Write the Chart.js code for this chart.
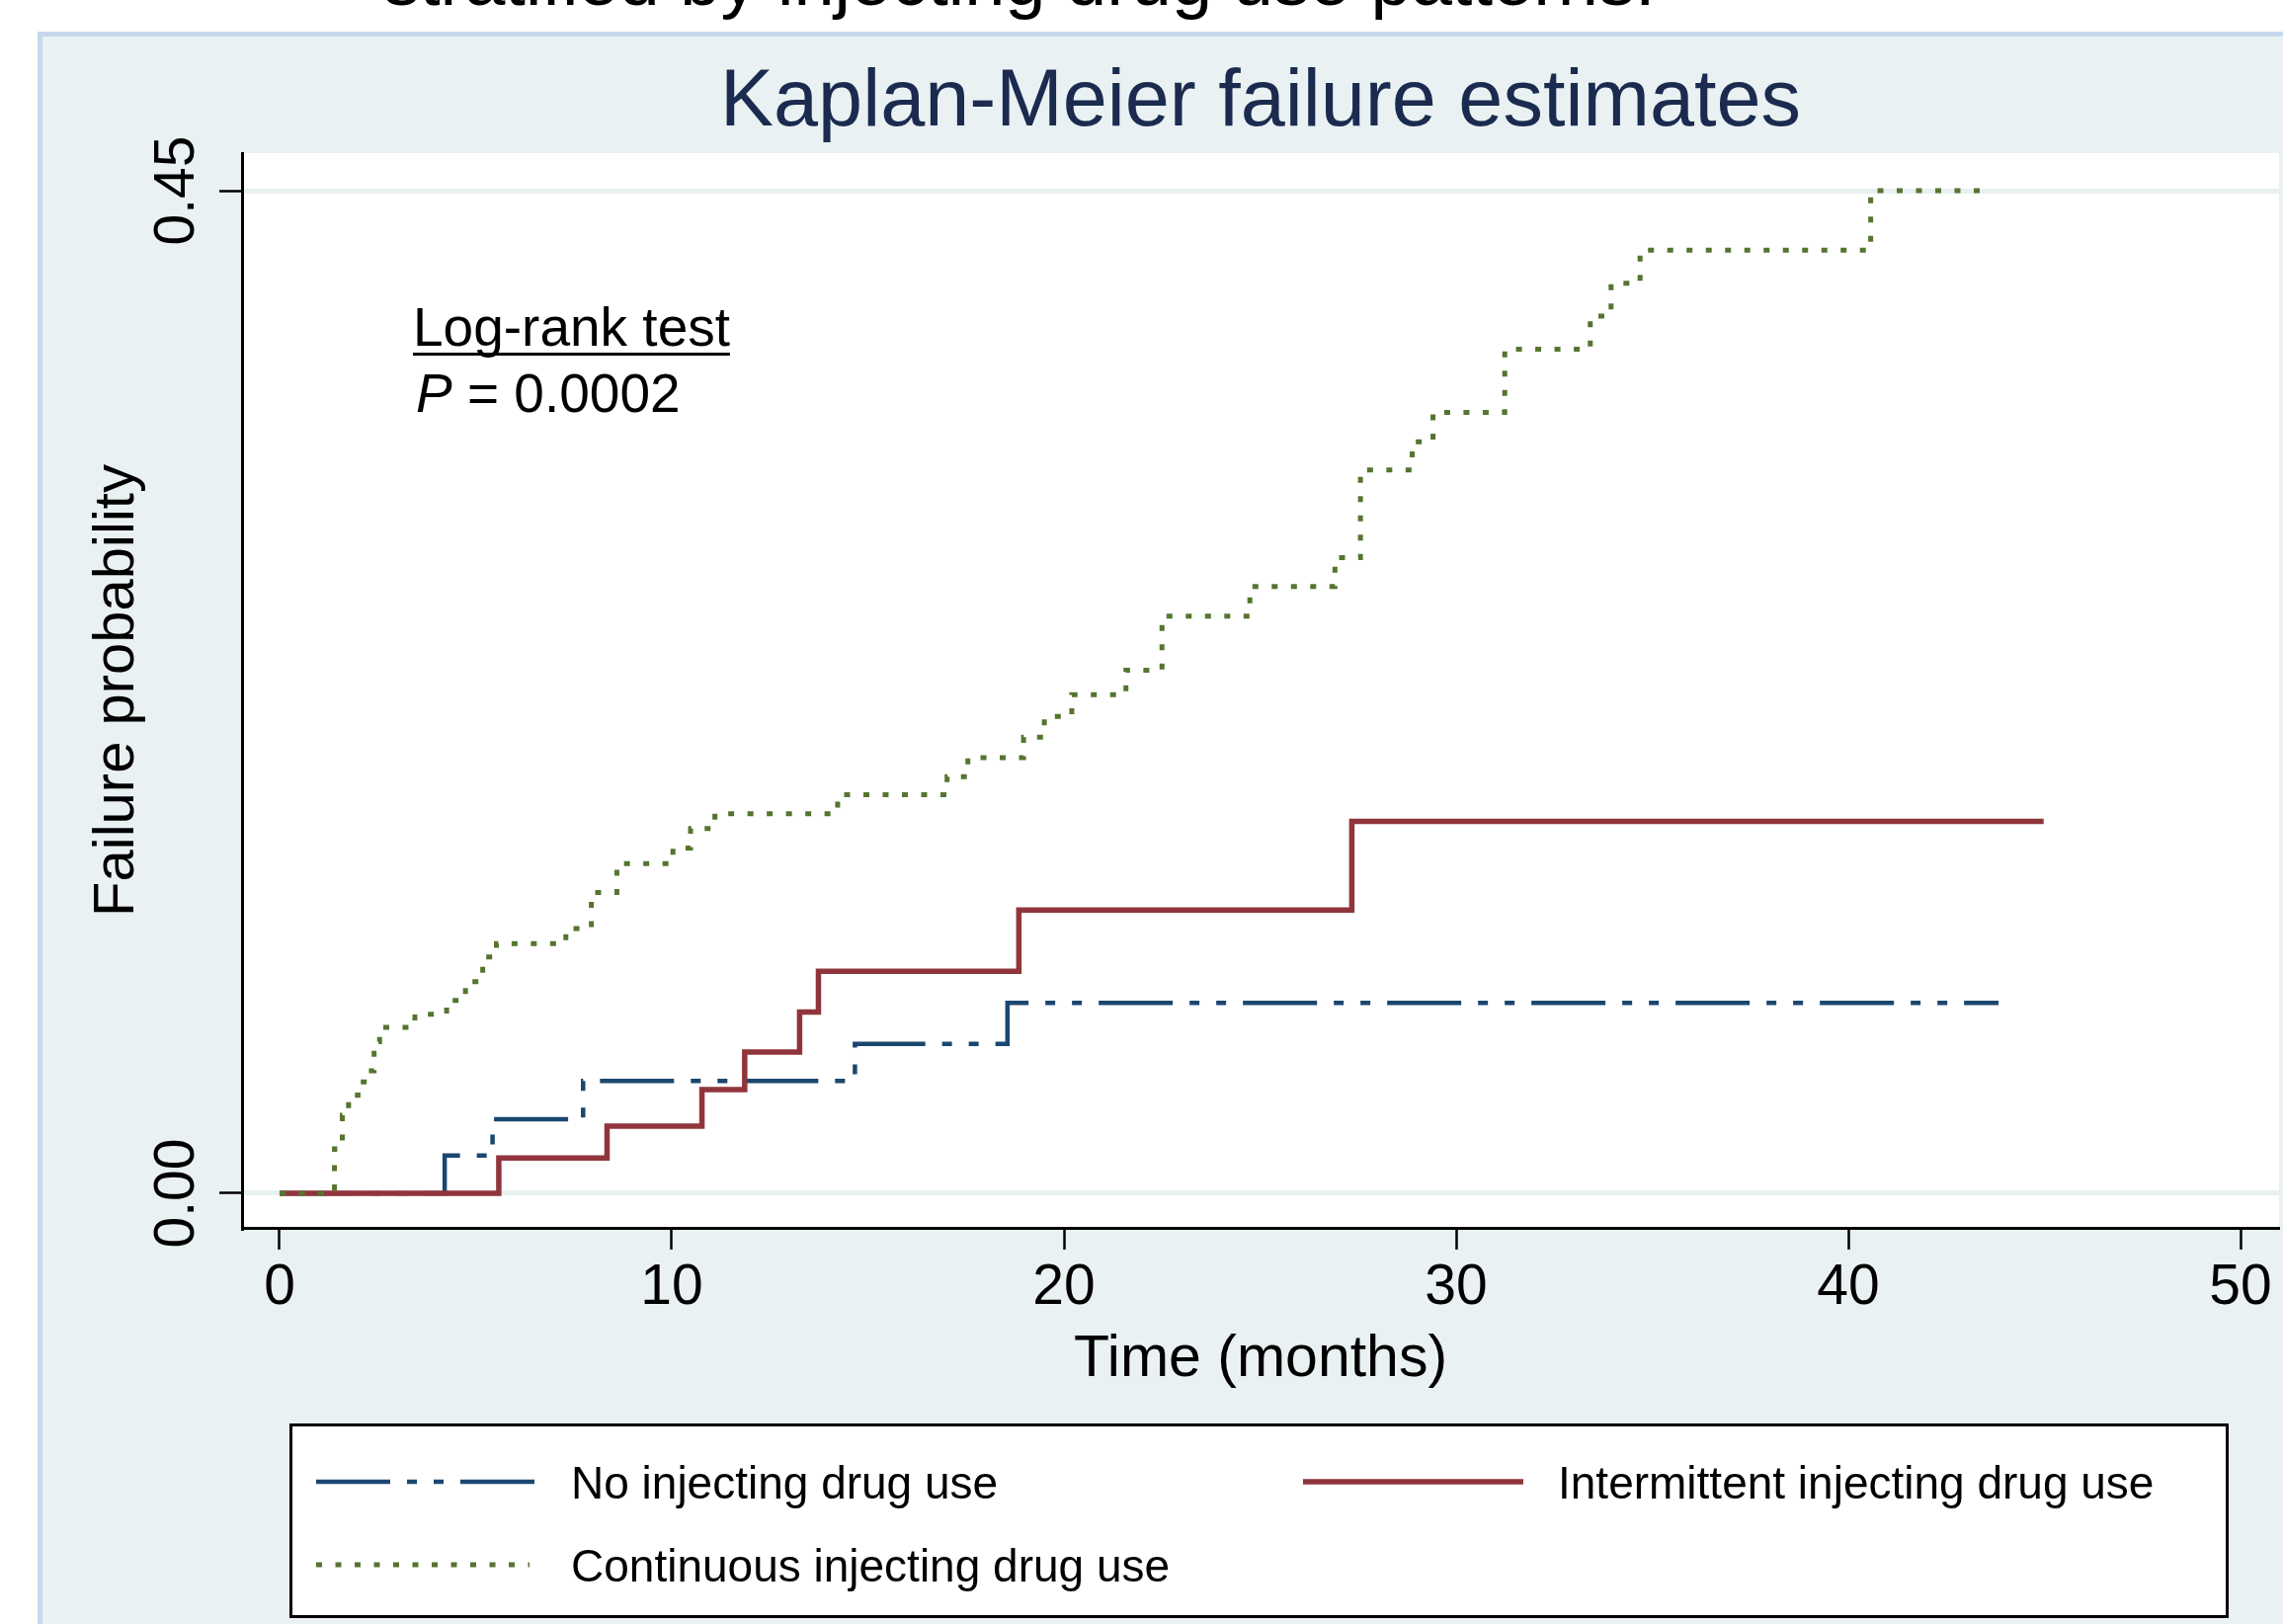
<!DOCTYPE html>
<html>
<head>
<meta charset="utf-8">
<script src="https://cdn.jsdelivr.net/npm/chart.js@4.4.0/dist/chart.umd.min.js"></script>
<style>
  html, body { margin: 0; padding: 0; background: #fff; }
  canvas { display: block; }
</style>
</head>
<body>
<canvas id="kmChart" width="2311" height="1644"></canvas>
<script>
// Datos (tiempo en meses, probabilidad de fallo acumulada)
const noTimes = [0, 4.21, 5.43, 7.74, 14.67, 18.56, 43.83];
const noFail = [0, 0.017, 0.0332, 0.0504, 0.0671, 0.0855, 0.0855];

const intTimes = [0, 5.59, 8.35, 10.77, 11.86, 13.26, 13.74, 18.85, 27.34, 44.98];
const intFail = [0, 0.0159, 0.0302, 0.0465, 0.0634, 0.0814, 0.0996, 0.1271, 0.1669, 0.1669];

const contTimes = [0, 1.40, 1.60, 1.76, 2.00, 2.25, 2.41, 2.55, 3.45, 4.26, 4.74, 5.18, 5.53, 7.30, 7.95, 8.60,
  10.03, 10.48, 11.10, 14.23, 17.02, 17.55, 18.97, 19.50, 20.20, 21.58, 22.50, 24.74, 26.91, 27.56,
  28.88, 29.41, 31.24, 33.42, 33.95, 34.69, 40.57, 43.69];
const contFail = [0, 0.020, 0.035, 0.044, 0.050, 0.055, 0.068, 0.0745, 0.0804, 0.0866, 0.095, 0.1061, 0.112, 0.1188, 0.135, 0.148,
  0.155, 0.1637, 0.1704, 0.1789, 0.187, 0.1955, 0.2047, 0.214, 0.2238, 0.2348, 0.259, 0.2723, 0.2853, 0.3246,
  0.3373, 0.3505, 0.3788, 0.3937, 0.4084, 0.4233, 0.45, 0.45];

const seriesNames = ['No injecting drug use', 'Intermittent injecting drug use', 'Continuous injecting drug use'];
const xTicks = [0, 10, 20, 30, 40, 50];
const yTicks = [0, 0.45];
const yTickLabels = ['0.00', '0.45'];

const FONT = "'Liberation Sans', Arial, Helvetica, sans-serif";

function toXY(t, v) {
  return t.map((x, i) => ({ x: x, y: v[i] }));
}

// Fondo: marco azul claro, región gris-azulada y área del gráfico blanca
const fondoPlugin = {
  id: 'fondo',
  beforeDraw(chart) {
    const c = chart.ctx;
    const a = chart.chartArea;
    c.save();
    c.fillStyle = '#ffffff';
    c.fillRect(0, 0, chart.width, chart.height);
    c.fillStyle = '#c7d8ee';
    c.fillRect(38, 32, chart.width - 38, chart.height - 32);
    c.fillStyle = '#eaf1f3';
    c.fillRect(43, 37, chart.width - 43, chart.height - 37);
    c.fillStyle = '#ffffff';
    c.fillRect(a.left, a.top, a.right - a.left, a.bottom - a.top);
    // texto de arriba, cortado por el recorte de la imagen
    c.fillStyle = '#000';
    c.font = '74px ' + FONT;
    c.textBaseline = 'alphabetic';
    c.fillText('stratified by injecting drug use patterns.', 388, 5);
    c.restore();
  }
};

// Textos, etiquetas rotadas y leyenda
const textosPlugin = {
  id: 'textos',
  afterDraw(chart) {
    const c = chart.ctx;
    const a = chart.chartArea;
    const ys = chart.scales.y;
    c.save();
    c.textBaseline = 'alphabetic';

    // título
    c.fillStyle = '#1b2b4f';
    c.font = '81px ' + FONT;
    c.textAlign = 'center';
    c.fillText('Kaplan-Meier failure estimates', (a.left + a.right) / 2, 127);

    // etiquetas del eje Y (rotadas)
    c.fillStyle = '#000';
    c.font = '57px ' + FONT;
    yTicks.forEach((v, i) => {
      c.save();
      c.translate(196, ys.getPixelForValue(v));
      c.rotate(-Math.PI / 2);
      c.fillText(yTickLabels[i], 0, 0);
      c.restore();
    });

    // título eje Y
    c.font = '58px ' + FONT;
    c.save();
    c.translate(135, (a.top + a.bottom) / 2);
    c.rotate(-Math.PI / 2);
    c.fillText('Failure probability', 0, 0);
    c.restore();

    // título eje X
    c.font = '59px ' + FONT;
    c.fillText('Time (months)', (a.left + a.right) / 2, 1393);

    // prueba log-rank
    c.textAlign = 'left';
    c.font = '55px ' + FONT;
    c.fillText('Log-rank test', 418, 350);
    const w = c.measureText('Log-rank test').width;
    c.fillRect(418, 357, w, 3);
    c.font = 'italic 55px ' + FONT;
    c.fillText('P', 421, 417);
    const wp = c.measureText('P').width;
    c.font = '55px ' + FONT;
    c.fillText(' = 0.0002', 421 + wp, 417);

    // leyenda
    c.fillStyle = '#ffffff';
    c.fillRect(293, 1441, 1963, 197);
    c.strokeStyle = '#000';
    c.lineWidth = 3;
    c.strokeRect(294.5, 1442.5, 1960, 194);
    const pos = [[320, 542, 1500, 578], [1319, 1542, 1500, 1577], [320, 536, 1584, 578]];
    chart.data.datasets.forEach(ds => {
      const p = pos[ds.legendIndex];
      c.save();
      c.strokeStyle = ds.borderColor;
      c.lineWidth = ds.borderWidth;
      c.setLineDash(ds.borderDash || []);
      c.beginPath();
      c.moveTo(p[0], p[2]);
      c.lineTo(p[1], p[2]);
      c.stroke();
      c.restore();
      c.fillStyle = '#000';
      c.font = '46px ' + FONT;
      c.fillText(ds.label, p[3], p[2] + 17);
    });
    c.restore();
  }
};

const ctx = document.getElementById('kmChart');

new Chart(ctx, {
  type: 'line',
  data: {
    datasets: [
      {
        label: seriesNames[2], legendIndex: 2, order: 0,
        data: toXY(contTimes, contFail),
        borderColor: '#55752f', borderWidth: 5, borderDash: [6, 13.5], borderCapStyle: 'butt'
      },
      {
        label: seriesNames[1], legendIndex: 1, order: 1,
        data: toXY(intTimes, intFail),
        borderColor: '#90353b', borderWidth: 5.5
      },
      {
        label: seriesNames[0], legendIndex: 0, order: 2,
        data: toXY(noTimes, noFail),
        borderColor: '#1a476f', borderWidth: 4.5, borderDash: [75, 17, 10, 17, 10, 17]
      }
    ]
  },
  options: {
    responsive: false,
    animation: false,
    devicePixelRatio: 1,
    layout: { padding: { left: 0, top: 155, right: 4, bottom: 0 } },
    elements: {
      line: { stepped: true, tension: 0, fill: false },
      point: { radius: 0 }
    },
    plugins: {
      legend: { display: false },
      tooltip: { enabled: false },
      title: { display: false }
    },
    scales: {
      x: {
        type: 'linear',
        min: -0.957,
        max: 50.982,
        afterBuildTicks: s => { s.ticks = xTicks.map(v => ({ value: v })); },
        afterFit: s => { s.height = 1644 - 1243; },
        grid: { drawOnChartArea: false, drawTicks: true, tickLength: 22, tickColor: '#000', tickWidth: 2.5 },
        border: { display: true, color: '#000', width: 3 },
        ticks: {
          color: '#000', font: { family: FONT, size: 57 }, padding: 5,
          maxRotation: 0, minRotation: 0, autoSkip: false
        }
      },
      y: {
        type: 'linear',
        min: -0.01552,
        max: 0.46685,
        afterBuildTicks: s => { s.ticks = yTicks.map(v => ({ value: v })); },
        afterFit: s => { s.width = 245; },
        grid: { color: '#e9f0f2', lineWidth: 5, drawTicks: true, tickLength: 23, tickColor: '#000', tickWidth: 2.5 },
        border: { display: true, color: '#000', width: 3 },
        ticks: { display: false }
      }
    }
  },
  plugins: [fondoPlugin, textosPlugin]
});
</script>
</body>
</html>
